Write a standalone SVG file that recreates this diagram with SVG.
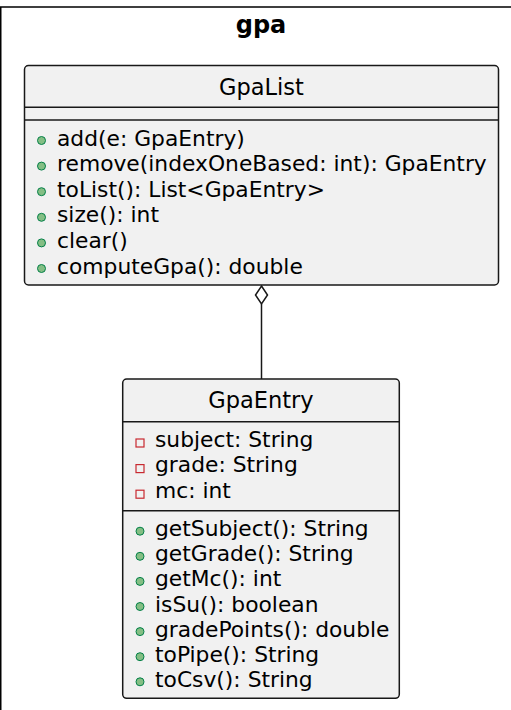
<svg xmlns="http://www.w3.org/2000/svg" width="511" height="710" viewBox="0 0 511 710">
<style>
.pkg{fill:#FFFFFF;stroke:#000000;stroke-width:1.5}
.box{fill:#F1F1F1;stroke:#181818;stroke-width:1.5}
.sep{stroke:#181818;stroke-width:1.5}
.title{font-family:"DejaVu Sans",sans-serif;font-weight:bold;font-size:24px;fill:#000}
.cname{font-family:"DejaVu Sans",sans-serif;font-size:22.5px;fill:#000}
.mem{font-family:"DejaVu Sans",sans-serif;font-size:21.8px;fill:#000}
.pub{fill:#84BE84;stroke:#038048;stroke-width:1}
.priv{fill:none;stroke:#C82930;stroke-width:1.2}
.conn{fill:none;stroke:#181818;stroke-width:1.5}
</style>
<rect class="pkg" x="0.75" y="7" width="530" height="730"/>
<text class="title" x="261" y="33" text-anchor="middle">gpa</text>
<g id="GpaList">
<rect class="box" x="24.5" y="65.5" width="474" height="219.5" rx="4"/>
<line class="sep" x1="24.5" y1="107.3" x2="498.5" y2="107.3"/>
<line class="sep" x1="24.5" y1="120" x2="498.5" y2="120"/>
<text class="cname" x="261.5" y="95" text-anchor="middle">GpaList</text>
<circle class="pub" cx="41.5" cy="140.5" r="4"/>
<text class="mem" x="57" y="145.5">add(e: GpaEntry)</text>
<circle class="pub" cx="41.5" cy="166.1" r="4"/>
<text class="mem" x="57" y="171.1">remove(indexOneBased: int): GpaEntry</text>
<circle class="pub" cx="41.5" cy="191.7" r="4"/>
<text class="mem" x="57" y="196.7">toList(): List&lt;GpaEntry&gt;</text>
<circle class="pub" cx="41.5" cy="217.3" r="4"/>
<text class="mem" x="57" y="222.3">size(): int</text>
<circle class="pub" cx="41.5" cy="242.9" r="4"/>
<text class="mem" x="57" y="247.9">clear()</text>
<circle class="pub" cx="41.5" cy="268.5" r="4"/>
<text class="mem" x="57" y="273.5">computeGpa(): double</text>
</g>
<g id="GpaEntry">
<rect class="box" x="122.7" y="379" width="276.6" height="319.3" rx="4"/>
<line class="sep" x1="122.7" y1="421.7" x2="399.3" y2="421.7"/>
<line class="sep" x1="122.7" y1="510.7" x2="399.3" y2="510.7"/>
<text class="cname" x="261" y="408.3" text-anchor="middle">GpaEntry</text>
<rect class="priv" x="136" y="439" width="8" height="8"/>
<text class="mem" x="155" y="446.7">subject: String</text>
<rect class="priv" x="136" y="464.6" width="8" height="8"/>
<text class="mem" x="155" y="472.4">grade: String</text>
<rect class="priv" x="136" y="490.2" width="8" height="8"/>
<text class="mem" x="155" y="498.1">mc: int</text>
<circle class="pub" cx="140" cy="531.2" r="4"/>
<text class="mem" x="155" y="536.2">getSubject(): String</text>
<circle class="pub" cx="140" cy="556.3" r="4"/>
<text class="mem" x="155" y="561.3">getGrade(): String</text>
<circle class="pub" cx="140" cy="581.4" r="4"/>
<text class="mem" x="155" y="586.4">getMc(): int</text>
<circle class="pub" cx="140" cy="606.5" r="4"/>
<text class="mem" x="155" y="611.5">isSu(): boolean</text>
<circle class="pub" cx="140" cy="631.6" r="4"/>
<text class="mem" x="155" y="636.6">gradePoints(): double</text>
<circle class="pub" cx="140" cy="656.7" r="4"/>
<text class="mem" x="155" y="661.7">toPipe(): String</text>
<circle class="pub" cx="140" cy="681.8" r="4"/>
<text class="mem" x="155" y="686.8">toCsv(): String</text>
</g>
<g id="connectors">
<polygon class="conn" points="261.5,286 267.5,295 261.5,304 255.5,295" style="fill:#FFFFFF"/>
<line class="conn" x1="261.5" y1="304" x2="261.5" y2="379"/>
</g>
</svg>
